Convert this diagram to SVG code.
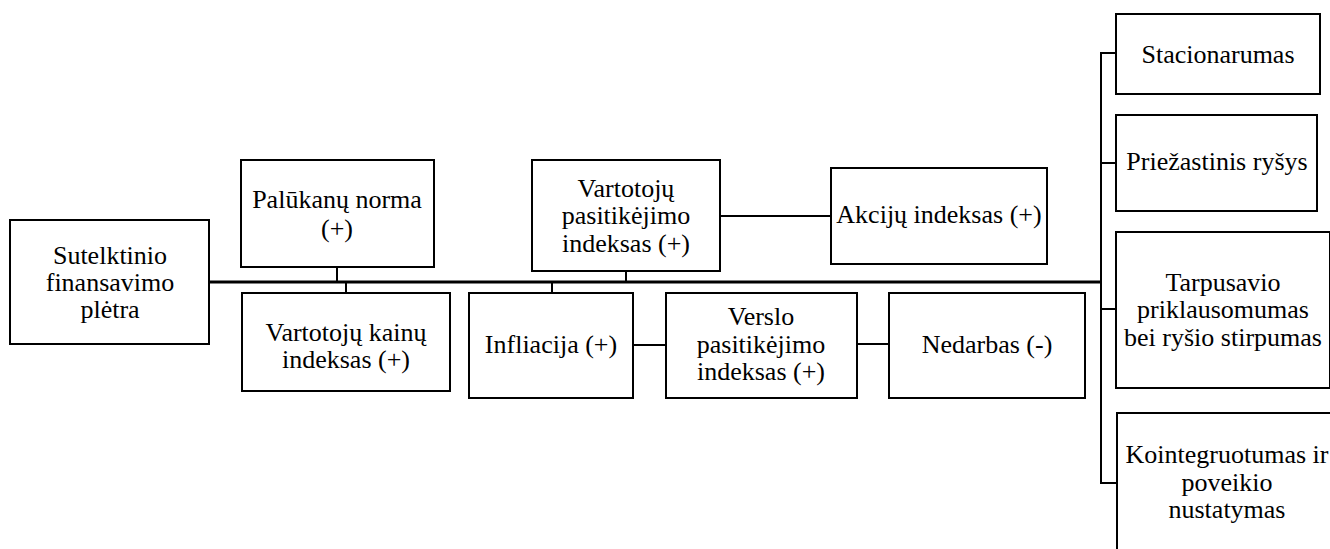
<svg xmlns="http://www.w3.org/2000/svg" width="1330" height="549" viewBox="0 0 1330 549">
  <style>
    .box { fill: #ffffff; stroke: #000000; stroke-width: 2; }
    .lbl { font-family: 'Liberation Serif', 'DejaVu Serif', serif; font-size: 26px; fill: #000000; text-anchor: middle; }
    .wire { fill: none; stroke: #000000; stroke-width: 2; }
    .trunk { fill: none; stroke: #000000; stroke-width: 3; }
  </style>
  <rect width="1330" height="549" fill="#ffffff"/>

  <!-- connectors -->
  <g id="connectors">
    <line class="trunk" x1="209" y1="282" x2="1102" y2="282"/>
    <line class="wire" x1="1101" y1="52" x2="1101" y2="484"/>
    <line class="wire" x1="1100" y1="53" x2="1117" y2="53"/>
    <line class="wire" x1="1100" y1="163" x2="1117" y2="163"/>
    <line class="wire" x1="1100" y1="309" x2="1117" y2="309"/>
    <line class="wire" x1="1100" y1="483" x2="1117" y2="483"/>
    <line class="wire" x1="337" y1="267" x2="337" y2="282"/>
    <line class="wire" x1="346" y1="282" x2="346" y2="293"/>
    <line class="wire" x1="626" y1="271" x2="626" y2="282"/>
    <line class="wire" x1="552" y1="282" x2="552" y2="293"/>
    <line class="wire" x1="720" y1="216" x2="831" y2="216"/>
    <line class="wire" x1="633" y1="345" x2="666" y2="345"/>
    <line class="wire" x1="857" y1="344" x2="889" y2="344"/>
  </g>

  <g id="sutelktinio">
    <rect class="box" x="10" y="220" width="199" height="124"/>
    <text class="lbl" x="110" y="264" font-family="Liberation Serif">Sutelktinio</text>
    <text class="lbl" x="110" y="291" font-family="Liberation Serif">finansavimo</text>
    <text class="lbl" x="110" y="318" font-family="Liberation Serif">plėtra</text>
  </g>

  <g id="palukanu">
    <rect class="box" x="241" y="160" width="193" height="107"/>
    <text class="lbl" x="337" y="208">Palūkanų norma</text>
    <text class="lbl" x="337" y="237">(+)</text>
  </g>

  <g id="vki">
    <rect class="box" x="242" y="293" width="208" height="98"/>
    <text class="lbl" x="346" y="341">Vartotojų kainų</text>
    <text class="lbl" x="346" y="368">indeksas (+)</text>
  </g>

  <g id="vpi">
    <rect class="box" x="532" y="160" width="188" height="111"/>
    <text class="lbl" x="626" y="197">Vartotojų</text>
    <text class="lbl" x="626" y="224">pasitikėjimo</text>
    <text class="lbl" x="626" y="252">indeksas (+)</text>
  </g>

  <g id="akciju">
    <rect class="box" x="831" y="168" width="216" height="96"/>
    <text class="lbl" x="939" y="223">Akcijų indeksas (+)</text>
  </g>

  <g id="infliacija">
    <rect class="box" x="469" y="293" width="164" height="105"/>
    <text class="lbl" x="551" y="353">Infliacija (+)</text>
  </g>

  <g id="verslo">
    <rect class="box" x="666" y="293" width="191" height="105"/>
    <text class="lbl" x="761" y="325">Verslo</text>
    <text class="lbl" x="761" y="353">pasitikėjimo</text>
    <text class="lbl" x="761" y="380">indeksas (+)</text>
  </g>

  <g id="nedarbas">
    <rect class="box" x="889" y="293" width="196" height="105"/>
    <text class="lbl" x="987" y="353">Nedarbas (-)</text>
  </g>

  <g id="stacionarumas">
    <rect class="box" x="1116" y="14" width="204" height="80"/>
    <text class="lbl" x="1218" y="63">Stacionarumas</text>
  </g>

  <g id="priezastinis">
    <rect class="box" x="1116" y="115" width="201" height="96"/>
    <text class="lbl" x="1217" y="170">Priežastinis ryšys</text>
  </g>

  <g id="tarpusavio">
    <rect class="box" x="1116" y="232" width="214" height="156"/>
    <text class="lbl" x="1223" y="291">Tarpusavio</text>
    <text class="lbl" x="1223" y="318">priklausomumas</text>
    <text class="lbl" x="1223" y="346">bei ryšio stirpumas</text>
  </g>

  <g id="kointegruotumas">
    <rect class="box" x="1117" y="413" width="222" height="150"/>
    <text class="lbl" x="1227" y="463">Kointegruotumas ir</text>
    <text class="lbl" x="1227" y="491">poveikio</text>
    <text class="lbl" x="1227" y="518">nustatymas</text>
  </g>
</svg>
